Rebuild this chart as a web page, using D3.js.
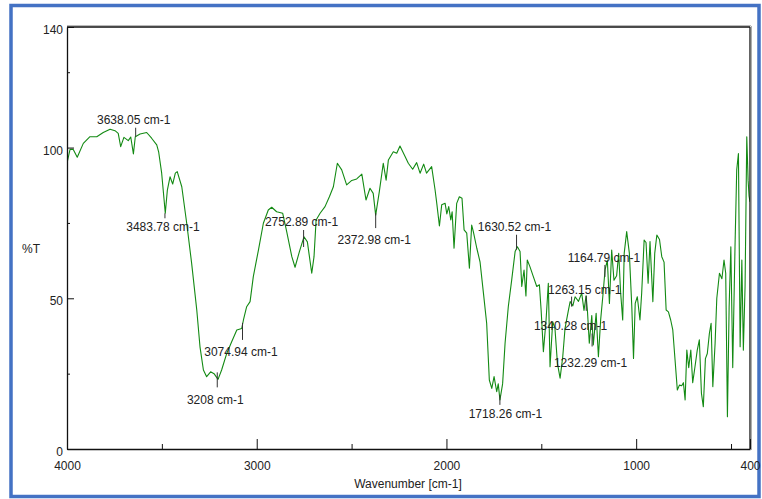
<!DOCTYPE html>
<html><head><meta charset="utf-8">
<script src="https://cdn.jsdelivr.net/npm/d3@7"></script>
<style>
body{margin:0;background:#fff}
text{font-family:"Liberation Sans",Arial,sans-serif}
</style>
</head><body><svg id="c" width="762" height="499"></svg>
<script>
// ---- data ----
const wavenumbers = [4000,3984,3967,3946,3914,3879,3843,3809,3773,3747,3730,3717,3700,3677,3664,3650,3640,3615,3580,3554,3527,3517,3501,3489,3482,3471,3457,3443,3429,3419,3395,3369,3343,3316,3299,3281,3264,3243,3225,3204,3185,3158,3132,3105,3079,3070,3053,3035,3018,2991,2965,2939,2921,2895,2863,2842,2815,2798,2775,2751,2733,2710,2698,2687,2666,2640,2617,2596,2575,2552,2526,2499,2473,2446,2424,2403,2386,2373,2354,2333,2318,2306,2280,2262,2245,2218,2201,2178,2157,2139,2120,2105,2078,2060,2051,2037,2025,2007,1998,1988,1977,1970,1960,1946,1932,1918,1907,1893,1879,1867,1858,1840,1823,1805,1788,1774,1761,1749,1735,1727,1718,1704,1691,1674,1656,1638,1626,1612,1603,1591,1581,1574,1560,1542,1524,1510,1501,1489,1475,1463,1454,1440,1428,1415,1401,1387,1375,1357,1348,1334,1322,1304,1287,1275,1264,1257,1247,1234,1226,1211,1199,1187,1176,1164,1152,1141,1129,1117,1103,1092,1082,1071,1063,1050,1036,1023,1014,1005,994,980,971,958,948,937,927,912,902,891,877,865,853,842,830,818,807,795,783,772,760,751,742,733,723,712,702,690,678,667,656,646,635,625,614,605,596,584,575,561,548,537,528,519,510,501,491,479,470,461,452,443,435,426,417,410,405,400];
const transmittance = [94.8,99.4,99.4,96.8,101.4,103.6,103.6,105.0,106.1,105.6,104.7,100.3,103.4,102.3,103.5,97.9,103.6,104.5,105.0,103.1,100.9,98.6,91.5,83.2,78.2,85.9,90.3,87.9,91.5,92.0,87.0,74.9,61.6,46.1,33.9,26.2,24.0,25.6,25.0,23.1,26.2,31.7,35.6,39.5,40.0,42.8,47.2,48.9,57.2,66.0,74.9,79.3,80.2,78.7,78.2,72.1,63.8,60.3,65.5,70.4,68.7,58.3,63.8,76.0,78.2,80.4,83.7,87.0,94.8,92.6,87.6,89.1,89.6,91.2,82.6,86.5,84.8,77.6,85.3,94.8,89.2,95.9,98.6,98.1,100.5,97.0,94.8,92.8,95.0,91.5,94.5,91.5,93.7,86.0,81.5,74.0,81.0,81.5,78.0,80.4,76.0,78.7,66.6,81.5,83.7,83.2,72.7,71.6,60.0,74.3,72.0,66.6,62.1,51.7,41.7,22.9,20.1,24.0,19.0,21.6,16.3,21.6,35.1,47.2,56.1,65.5,67.1,65.5,53.9,59.4,50.8,62.7,60.5,57.2,53.9,54.5,46.1,32.3,42.7,55.0,27.3,42.2,40.0,28.4,23.5,30.6,40.0,46.1,48.9,47.5,50.5,49.0,51.7,46.0,50.8,46.0,35.1,44.3,34.5,45.0,30.6,43.0,50.5,59.4,62.7,48.3,66.0,56.0,57.5,64.9,52.0,42.8,65.0,72.1,65.0,47.2,30.0,48.3,50.5,42.8,51.7,69.3,68.5,55.0,68.8,48.9,65.0,71.0,69.5,63.8,62.0,46.1,45.5,42.8,39.5,29.5,19.6,21.2,21.0,22.0,16.3,32.8,27.0,32.8,22.0,27.3,32.8,36.2,18.5,14.0,30.0,31.7,38.4,41.7,20.7,35.0,50.0,58.3,56.5,62.7,58.3,10.7,47.0,67.1,27.0,67.1,92.6,98.0,33.9,62.7,32.8,53.9,103.6,89.2,84.0,82.0];

const xTickValues = [4000,3000,2000,1000,400];
const xMinorTicks = [3500,2500,1500,500];
const yTickValues = [0,50,100,140];
const yMinorTicks = [25,75,125];

const peakWavenumbers = [3638.05,3483.78,3208,3074.94,2752.89,2372.98,1718.26,1630.52,1340.28,1263.15,1232.29,1164.79];
const peakTransmittance = [103.6,78.2,23.1,40.5,70.0,77.6,16.3,67.1,48.9,50.8,35.0,59.4];
const peakLabels = ["3638.05 cm-1","3483.78 cm-1","3208 cm-1","3074.94 cm-1","2752.89 cm-1","2372.98 cm-1","1718.26 cm-1","1630.52 cm-1","1340.28 cm-1","1263.15 cm-1","1232.29 cm-1","1164.79 cm-1"];

// ---- layout (label placement relative to the peak point) ----
const labelLayout = [
  {dx:-2,dy:-13,m1:-9,m2:0},
  {dx:-2,dy:18,m1:0,m2:5},
  {dx:-2,dy:25,m1:-7,m2:8},
  {dx:-1.6,dy:29,m1:-4,m2:13},
  {dx:-2,dy:-12,m1:-8,m2:9},
  {dx:-1.5,dy:29,m1:-2,m2:13},
  {dx:5.5,dy:18,m1:-5,m2:5},
  {dx:-2,dy:-16,m1:-12,m2:3},
  {dx:-1,dy:28,m1:-5,m2:5},
  {dx:-1.5,dy:-2,m1:0,m2:15},
  {dx:-1.5,dy:23,m1:-10,m2:3},
  {dx:-1,dy:-8,m1:-5,m2:7}
];

const svg = d3.select("#c");
svg.append("rect").attr("width",762).attr("height",499).attr("fill","#fff");
svg.append("rect").attr("x",11).attr("y",5.5).attr("width",748).attr("height",491)
  .attr("fill","none").attr("stroke","#4472C4").attr("stroke-width",3.5);

const L=67,R=750,T=27,B=449;
const x = d3.scaleLinear().domain([4000,400]).range([L,R]);
const y = d3.scaleLinear().domain([0,140]).range([B,T]);

svg.append("clipPath").attr("id","clip").append("rect")
  .attr("x",L).attr("y",T).attr("width",R-L).attr("height",B-T);

// spectrum
const pts = wavenumbers.map((w,i)=>[w,transmittance[i]]);
svg.append("path").datum(pts)
  .attr("clip-path","url(#clip)")
  .attr("fill","none").attr("stroke","#138a13").attr("stroke-width",1.1)
  .attr("stroke-linejoin","round")
  .attr("d",d3.line().x(d=>x(d[0])).y(d=>y(d[1])));

// frame top/right
svg.append("line").attr("x1",L).attr("x2",R+1).attr("y1",T-1.3).attr("y2",T-1.3).attr("stroke","#aaa").attr("stroke-width",1);
svg.append("line").attr("x1",L).attr("x2",R).attr("y1",T).attr("y2",T).attr("stroke","#111").attr("stroke-width",1.3);
svg.append("line").attr("x1",R).attr("x2",R).attr("y1",T).attr("y2",B).attr("stroke","#111").attr("stroke-width",1.3);
svg.append("line").attr("x1",R+1.3).attr("x2",R+1.3).attr("y1",T-1).attr("y2",B+1).attr("stroke","#999").attr("stroke-width",1);

// axes
const fmt = d3.format("d");
const gx = svg.append("g").attr("transform",`translate(0,${B})`)
  .call(d3.axisBottom(x).tickValues(xTickValues).tickSizeInner(-10).tickSizeOuter(0).tickPadding(12).tickFormat(fmt));
svg.append("g").attr("transform",`translate(0,${B})`)
  .call(d3.axisBottom(x).tickValues(xMinorTicks).tickSizeInner(-5).tickSizeOuter(0).tickFormat(""))
  .select(".domain").remove();
const gy = svg.append("g").attr("transform",`translate(${L},0)`)
  .call(d3.axisLeft(y).tickValues(yTickValues).tickSizeInner(-7).tickSizeOuter(0).tickPadding(4).tickFormat(fmt));
svg.append("g").attr("transform",`translate(${L},0)`)
  .call(d3.axisLeft(y).tickValues(yMinorTicks).tickSizeInner(-3).tickSizeOuter(0).tickFormat(""))
  .select(".domain").remove();
svg.selectAll(".domain").attr("stroke","#111").attr("stroke-width",1.3);
svg.selectAll(".tick line").attr("stroke","#111");
svg.selectAll(".tick text").attr("font-size",12).attr("fill","#222")
  .attr("font-family","'Liberation Sans',Arial,sans-serif");
gy.selectAll(".tick text").attr("dy","0.55em");

// axis titles
svg.append("text").attr("x",31).attr("y",253).attr("text-anchor","middle")
  .attr("font-size",12).attr("fill","#222").text("%T");
svg.append("text").attr("x",408).attr("y",488).attr("text-anchor","middle")
  .attr("font-size",12).attr("fill","#222").text("Wavenumber [cm-1]");

// peak markers
peakWavenumbers.forEach((w,i)=>{
  const px = x(w), py = y(peakTransmittance[i]), l = labelLayout[i];
  svg.append("line").attr("x1",px).attr("x2",px).attr("y1",py+l.m1).attr("y2",py+l.m2)
    .attr("stroke","#333").attr("stroke-width",1);
  svg.append("text").attr("x",px+l.dx).attr("y",py+l.dy).attr("text-anchor","middle")
    .attr("font-size",12).attr("fill","#222").text(peakLabels[i]);
});
</script>
</body></html>
